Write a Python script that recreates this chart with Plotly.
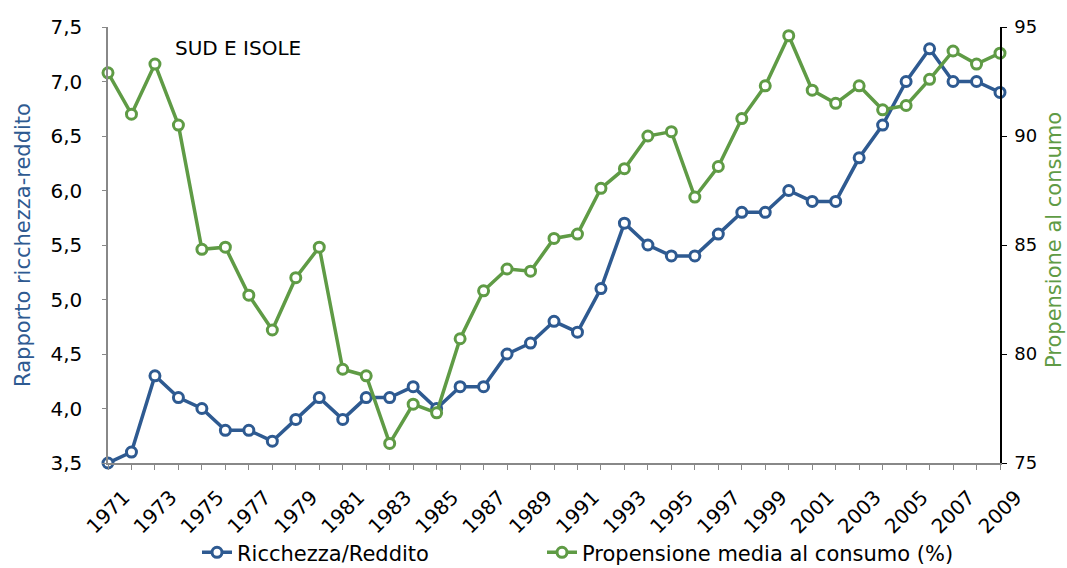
import plotly.graph_objects as go

years = list(range(1971, 2010))
ricchezza_reddito = [3.5, 3.6, 4.3, 4.1, 4.0, 3.8, 3.8, 3.7, 3.9, 4.1,
                     3.9, 4.1, 4.1, 4.2, 4.0, 4.2, 4.2, 4.5, 4.6, 4.8,
                     4.7, 5.1, 5.7, 5.5, 5.4, 5.4, 5.6, 5.8, 5.8, 6.0,
                     5.9, 5.9, 6.3, 6.6, 7.0, 7.3, 7.0, 7.0, 6.9]
propensione = [92.9, 91.0, 93.3, 90.5, 84.8, 84.9, 82.7, 81.1, 83.5, 84.9,
               79.3, 79.0, 75.9, 77.7, 77.3, 80.7, 82.9, 83.9, 83.8, 85.3,
               85.5, 87.6, 88.5, 90.0, 90.2, 87.2, 88.6, 90.8, 92.3, 94.6,
               92.1, 91.5, 92.3, 91.2, 91.4, 92.6, 93.9, 93.3, 93.8]
x_tick_labels = [str(y) for y in range(1971, 2010, 2)]

BLUE = "#2E5A91"
GREEN = "#5F9B45"
FONT = "DejaVu Sans"

fig = go.Figure()
fig.add_trace(go.Scatter(
    x=years, y=ricchezza_reddito, name="Ricchezza/Reddito",
    mode="lines+markers", cliponaxis=False,
    line=dict(color=BLUE, width=3.5),
    marker=dict(symbol="circle", size=10, color="white",
                line=dict(color=BLUE, width=3)),
    yaxis="y", legend="legend"))
fig.add_trace(go.Scatter(
    x=years, y=propensione, name="Propensione media al consumo (%)",
    mode="lines+markers", cliponaxis=False,
    line=dict(color=GREEN, width=3.5),
    marker=dict(symbol="circle", size=10, color="white",
                line=dict(color=GREEN, width=3)),
    yaxis="y2", legend="legend2"))

legend_common = dict(orientation="h", xanchor="left", xref="container",
                     yref="container", y=0.027, yanchor="middle",
                     font=dict(size=21, family=FONT, color="black"),
                     itemwidth=30, bgcolor="rgba(0,0,0,0)")

fig.update_layout(
    width=1067, height=568,
    margin=dict(l=108, r=67, t=27, b=105, autoexpand=False),
    paper_bgcolor="white", plot_bgcolor="white",
    separators=",.",
    font=dict(family=FONT, color="black", size=18),
    showlegend=True,
    legend=dict(x=197 / 1067, **legend_common),
    legend2=dict(x=542 / 1067, **legend_common),
    xaxis=dict(
        range=[1971, 2009], showgrid=False, zeroline=False,
        showline=True, linecolor="#888888", linewidth=1.5,
        tickmode="array", tickvals=[int(t) for t in x_tick_labels],
        ticktext=x_tick_labels, tickangle=-45,
        ticks="outside", ticklen=5, tickcolor="#888888",
        ticklabelshift=16, ticklabelstandoff=8,
        minor=dict(dtick=1, ticks="outside", ticklen=5, tickcolor="#888888"),
        tickfont=dict(size=20, family=FONT)),
    yaxis=dict(
        range=[3.5, 7.5], dtick=0.5, tickformat=".1f",
        showgrid=False, zeroline=False,
        showline=True, linecolor="#888888", linewidth=1.5,
        ticks="outside", ticklen=4, tickcolor="#888888",
        ticklabelstandoff=16,
        tickfont=dict(size=20, family=FONT),
        title=dict(text="Rapporto ricchezza-reddito", font=dict(size=21, color=BLUE, family=FONT),
                   standoff=14)),
    yaxis2=dict(
        range=[75, 95], dtick=5, overlaying="y", side="right",
        showgrid=False, zeroline=False,
        showline=True, linecolor="black", linewidth=1.5,
        ticks="outside", ticklen=5, tickcolor="black",
        ticklabelstandoff=4,
        tickfont=dict(size=18, family=FONT)),
    annotations=[
        dict(text="SUD E ISOLE", x=1973.75, y=7.31, xref="x", yref="y",
             xanchor="left", yanchor="middle", showarrow=False,
             font=dict(size=20, color="black", family=FONT)),
        dict(text="Propensione al consumo", textangle=-90,
             x=(1054 - 108) / 892, y=(463 - 240) / 436, xref="paper", yref="paper",
             xanchor="center", yanchor="middle", showarrow=False,
             font=dict(size=21, color=GREEN, family=FONT)),
    ],
)

fig.write_html("out.html", config={"displayModeBar": False},
               post_script="document.body.style.margin='0';document.body.style.padding='0';")
